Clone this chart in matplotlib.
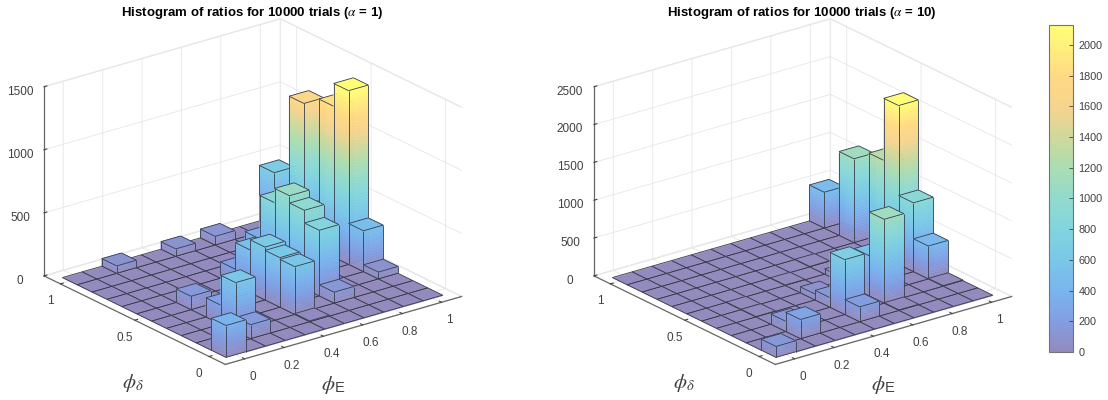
import numpy as np
import matplotlib
matplotlib.use("Agg")
import matplotlib.pyplot as plt
from matplotlib.colors import LinearSegmentedColormap, Normalize
from matplotlib.cm import ScalarMappable
from mpl_toolkits.mplot3d.art3d import Poly3DCollection, Line3DCollection

plt.rcParams['font.family'] = ['Liberation Sans', 'DejaVu Sans']
plt.rcParams['mathtext.fontset'] = 'stix'

bin_centers = np.round(np.arange(11) * 0.1, 1)
bin_width = 0.1

# (index along phi_E, index along phi_delta, count); every other cell is zero
counts_a1 = [
    (0, 0, 253), (2, 1, 112), (2, 2, 388), (2, 3, 152), (2, 5, 107), (2, 10, 60),
    (5, 1, 8), (5, 2, 380), (5, 3, 394), (5, 4, 420), (5, 5, 340), (5, 6, 130),
    (5, 10, 60), (7, 2, 88), (7, 3, 521), (7, 4, 622), (7, 5, 680), (7, 6, 567),
    (7, 7, 223), (7, 10, 70), (10, 3, 55), (10, 4, 325), (10, 5, 1378), (10, 6, 1197),
    (10, 7, 300), (10, 8, 1104), (10, 10, 440),
]
counts_a10 = [
    (0, 0, 145), (2, 1, 255), (2, 2, 136), (2, 4, 6), (2, 5, 6), (5, 1, 198),
    (5, 2, 726), (5, 3, 128), (5, 4, 80), (5, 6, 6), (7, 1, 8), (7, 2, 1109),
    (7, 3, 532), (7, 5, 70), (7, 7, 6), (10, 2, 8), (10, 3, 436), (10, 4, 911),
    (10, 5, 2100), (10, 6, 1280), (10, 8, 1109), (10, 10, 475),
]
titles = [r'Histogram of ratios for 10000 trials ($\alpha$ = 1)',
          r'Histogram of ratios for 10000 trials ($\alpha$ = 10)']
x_ticks = [0, 0.2, 0.4, 0.6, 0.8, 1]
x_ticklabels = ['0', '0.2', '0.4', '0.6', '0.8', '1']
y_ticks = [0, 0.5, 1]
y_ticklabels = ['0', '0.5', '1']
z_ticks_a1 = [0, 500, 1000, 1500]
z_ticks_a10 = [0, 500, 1000, 1500, 2000, 2500]
cbar_ticks = list(range(0, 2001, 200))

cmap_pos = [0, 200, 400, 600, 800, 1000, 1200, 1400, 1600, 1800, 2130]
cmap_rgb = [(147, 138, 190), (130, 158, 226), (122, 181, 238), (122, 199, 232),
            (130, 212, 222), (146, 218, 206), (171, 221, 178), (208, 216, 156),
            (246, 212, 142), (255, 218, 132), (255, 255, 118)]
cmap = LinearSegmentedColormap.from_list(
    'parula_light',
    [(p / cmap_pos[-1], tuple(c / 255 for c in rgb)) for p, rgb in zip(cmap_pos, cmap_rgb)])

W, H = 1108, 400
fig = plt.figure(figsize=(W / 100, H / 100), dpi=100)
EDGE = (0.22, 0.24, 0.30)


def draw_bars(ax, counts, norm):
    grid = np.zeros((len(bin_centers), len(bin_centers)))
    for i, j, c in counts:
        grid[i, j] = c
    order = 10
    for i in range(len(bin_centers) - 1, -1, -1):
        for j in range(len(bin_centers) - 1, -1, -1):
            h = grid[i, j]
            x0, x1 = bin_centers[i] - bin_width / 2, bin_centers[i] + bin_width / 2
            y0, y1 = bin_centers[j] - bin_width / 2, bin_centers[j] + bin_width / 2
            polys, cols = [], []
            if h > 0:
                lv = np.linspace(0, h, max(2, int(h / norm.vmax * 60) + 2))
                for a, b in zip(lv[:-1], lv[1:]):
                    col = cmap(norm((a + b) / 2))
                    polys.append([(x0, y0, a), (x0, y1, a), (x0, y1, b), (x0, y0, b)])
                    cols.append(col)
                    polys.append([(x0, y0, a), (x1, y0, a), (x1, y0, b), (x0, y0, b)])
                    cols.append(col)
            polys.append([(x0, y0, h), (x1, y0, h), (x1, y1, h), (x0, y1, h)])
            cols.append(cmap(norm(h)))
            pc = Poly3DCollection(polys, facecolors=cols, edgecolors=cols, linewidths=0.3,
                                  zorder=order)
            ax.add_collection3d(pc)
            segs = [[(x0, y0, h), (x1, y0, h)], [(x1, y0, h), (x1, y1, h)],
                    [(x1, y1, h), (x0, y1, h)], [(x0, y1, h), (x0, y0, h)]]
            if h > 0:
                segs += [[(x0, y0, 0), (x0, y0, h)], [(x1, y0, 0), (x1, y0, h)],
                         [(x0, y1, 0), (x0, y1, h)], [(x0, y0, 0), (x1, y0, 0)],
                         [(x0, y0, 0), (x0, y1, 0)]]
            lc = Line3DCollection(segs, colors=[EDGE], linewidths=0.6, zorder=order + 1)
            ax.add_collection3d(lc)
            order += 2


def style(ax, zmax, zticks):
    ax.computed_zorder = False
    ax.set_proj_type('ortho')
    ax.view_init(elev=22, azim=-127.5)
    ax.set_xlim(-0.098, 1.102)
    ax.set_ylim(-0.109, 1.11)
    ax.set_zlim(0, zmax)
    ax.set_box_aspect((1, 1, 0.685), zoom=1.136)
    ax.set_xticks(x_ticks, x_ticklabels)
    ax.set_yticks(y_ticks, y_ticklabels)
    ax.set_zticks(zticks)
    ax.patch.set_alpha(0)
    for axis, pad in ((ax.xaxis, -1.4), (ax.yaxis, -1.4), (ax.zaxis, 0.6)):
        axis.set_pane_color((1, 1, 1, 1))
        axis.pane.set_edgecolor((0.92, 0.92, 0.92))
        axis.line.set_color((0.4, 0.4, 0.4))
        axis.line.set_linewidth(0.9)
        axis._axinfo['grid'].update(color=(0.9, 0.9, 0.9), linewidth=0.6)
        axis._axinfo['tick'].update(inward_factor=0.0, outward_factor=0.15)
        axis.set_tick_params(labelsize=8.5, colors=(0.25, 0.25, 0.25), pad=pad)


ax_left = -0.01 - 18.5 / W
ax_bottom = 3 / H
ax1 = fig.add_axes([ax_left, ax_bottom, 0.5, 1], projection='3d')
ax2 = fig.add_axes([ax_left + 550 / W, ax_bottom, 0.5, 1], projection='3d')
max1 = max(c for _, _, c in counts_a1)
draw_bars(ax1, counts_a1, Normalize(0, max1))
draw_bars(ax2, counts_a10, Normalize(0, cmap_pos[-1]))
style(ax1, 1500, z_ticks_a1)
style(ax2, 2500, z_ticks_a10)

title_x = (251.7, 801.5)
for k, dx in enumerate((0, 550)):
    fig.text(title_x[k] / W, 1 - 13 / H, titles[k], ha='center', va='center',
             fontsize=9.55, fontweight='bold', color='black')
    fig.text((133 + dx + (1 if k else 0)) / W, 1 - 383 / H, r'$\phi_{\delta}$', ha='center', va='center',
             fontsize=15, color=(0.25, 0.25, 0.25))
    fig.text((333 + dx) / W, 1 - 385 / H, r'$\phi_{\mathregular{E}}$', ha='center', va='center',
             fontsize=15, color=(0.25, 0.25, 0.25))

cax = fig.add_axes([1049 / W, 1 - 352 / H, 24 / W, 327 / H])
cb = fig.colorbar(ScalarMappable(Normalize(0, cmap_pos[-1]), cmap), cax=cax, ticks=cbar_ticks)
cb.ax.tick_params(direction='in', length=3, width=0.6, labelsize=7.8, colors=(0.25, 0.25, 0.25), pad=4)
cb.outline.set_edgecolor((0.45, 0.45, 0.45))
cb.outline.set_linewidth(0.8)

fig.savefig('out.png', dpi=100)
